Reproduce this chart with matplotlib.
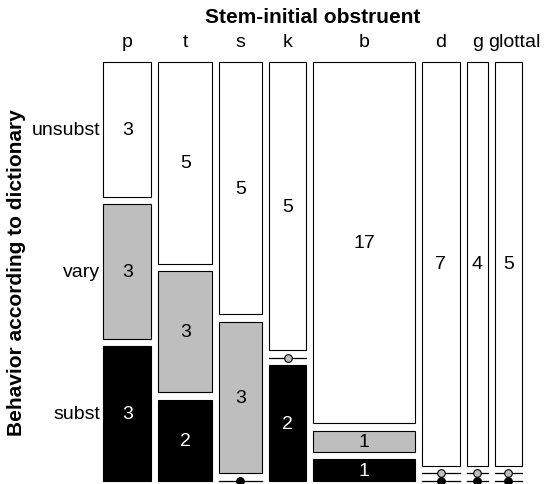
import matplotlib
matplotlib.use('Agg')
import matplotlib.pyplot as plt
from matplotlib.patches import Rectangle

obstruents = ['p', 't', 's', 'k', 'b', 'd', 'g', 'glottal']
behaviors = ['unsubst', 'vary', 'subst']
unsubst = [3, 5, 5, 5, 17, 7, 4, 5]
vary = [3, 3, 3, 0, 1, 0, 0, 0]
subst = [3, 2, 0, 2, 1, 0, 0, 0]
fills = ['white', '#bebebe', 'black']

# mosaic layout, in pixels of the 545 x 485 figure
left, right = 103.3, 521.7
top, bottom = 63.0, 481.7
xgap, ygap = 7.0, 7.5

plt.rcParams['font.family'] = ['Liberation Sans', 'DejaVu Sans']

fig = plt.figure(figsize=(5.45, 4.85), dpi=100)
ax = fig.add_axes([0, 0, 1, 1])
ax.set_xlim(0, 545)
ax.set_ylim(485, 0)
ax.axis('off')

counts = [unsubst, vary, subst]
col_tot = [sum(c) for c in zip(*counts)]
xunit = (right - left - xgap * (len(obstruents) - 1)) / sum(col_tot)

x = left
for j, name in enumerate(obstruents):
    w = col_tot[j] * xunit
    yunit = (bottom - top - ygap * (len(behaviors) - 1)) / col_tot[j]
    y = top
    for i, beh in enumerate(behaviors):
        n = counts[i][j]
        h = n * yunit
        if n > 0:
            ax.add_patch(Rectangle((x, y), w, h, facecolor=fills[i],
                                   edgecolor='black', lw=0.8))
            ax.text(x + w / 2, y + h / 2, str(n), ha='center', va='center',
                    fontsize=14, color='white' if fills[i] == 'black' else 'black')
        else:
            # empty cell: flat line with a dot
            ax.plot([x, x + w], [y, y], color='black', lw=0.9, clip_on=False)
            ax.plot(x + w / 2, y, 'o', ms=5.5, mfc=fills[i], mec='black',
                    mew=0.8, clip_on=False, zorder=3)
        if j == 0:
            ax.text(left - 3, y + h / 2, beh, ha='right', va='center', fontsize=14)
        y += h + ygap
    lx = x + w / 2
    if j == len(obstruents) - 1:
        lx += 6
    ax.text(lx, 47, name, ha='center', va='baseline', fontsize=14)
    x += w + xgap

ax.text((left + right) / 2, 23, 'Stem-initial obstruent', ha='center',
        va='baseline', fontsize=15, fontweight='bold')
ax.text(17, (top + bottom) / 2, 'Behavior according to dictionary',
        ha='center', va='center', rotation=90, fontsize=15, fontweight='bold')

fig.savefig('out.png', dpi=100)
